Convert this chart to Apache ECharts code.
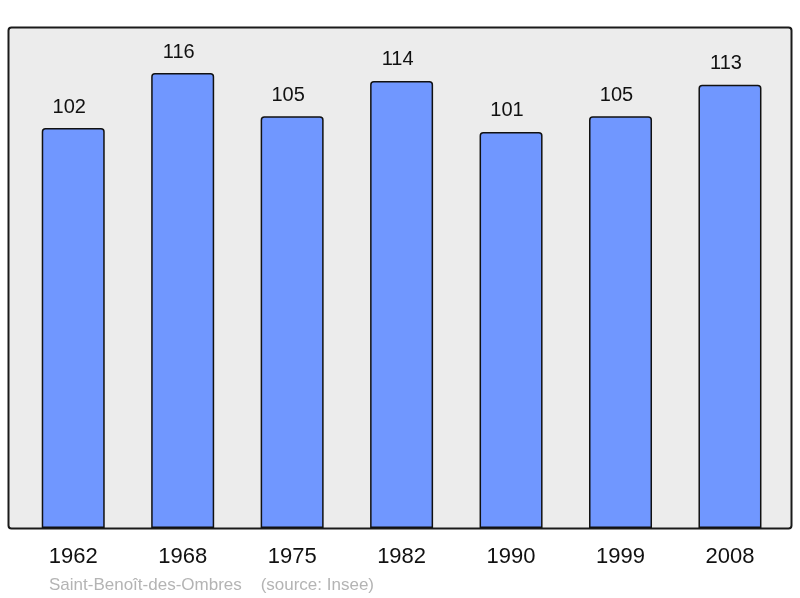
<!DOCTYPE html>
<html>
<head>
<meta charset="utf-8">
<script src="https://cdn.jsdelivr.net/npm/echarts@6/dist/echarts.min.js"></script>
<style>html,body{margin:0;padding:0;background:#fff;}#c{width:800px;height:598px;}</style>
</head>
<body>
<div id="c"></div>
<script>
var years = ['1962', '1968', '1975', '1982', '1990', '1999', '2008'];
var population = [102, 116, 105, 114, 101, 105, 113];
var footer = 'Saint-Benoît-des-Ombres    (source: Insee)';

var chart = echarts.init(document.getElementById('c'), null, {renderer: 'canvas'});
chart.setOption({
  animation: false,
  backgroundColor: '#ffffff',
  textStyle: {fontFamily: 'Liberation Sans, Arial, sans-serif'},
  graphic: [
    {type: 'rect', z: 0, shape: {x: 8.5, y: 27.5, width: 783, height: 501, r: 3},
     style: {fill: '#ececec', stroke: '#1a1a1a', lineWidth: 2}},
    {type: 'text', z: 5, left: 49, top: 577,
     style: {text: footer, fill: '#b4b4b4', font: '17px "Liberation Sans", Arial, sans-serif'}}
  ],
  grid: {left: 18.5, right: 15.3, top: 28, bottom: 70, containLabel: false},
  xAxis: {
    type: 'category', data: years,
    axisLine: {show: false}, axisTick: {show: false},
    axisLabel: {color: '#111', fontSize: 22, margin: 18, fontFamily: 'Liberation Sans'}
  },
  yAxis: {
    type: 'value', min: 0, max: 127.5,
    show: false, splitLine: {show: false}
  },
  series: [{
    type: 'bar', z: 2, data: population, barWidth: 63,
    itemStyle: {color: '#7097ff', borderColor: '#111', borderWidth: 1.5, borderRadius: [3, 3, 0, 0]},
    label: {show: true, position: 'top', distance: 11, offset: [-4, 0], color: '#111', fontSize: 20, fontFamily: 'Liberation Sans'}
  }]
});
</script>
</body>
</html>
